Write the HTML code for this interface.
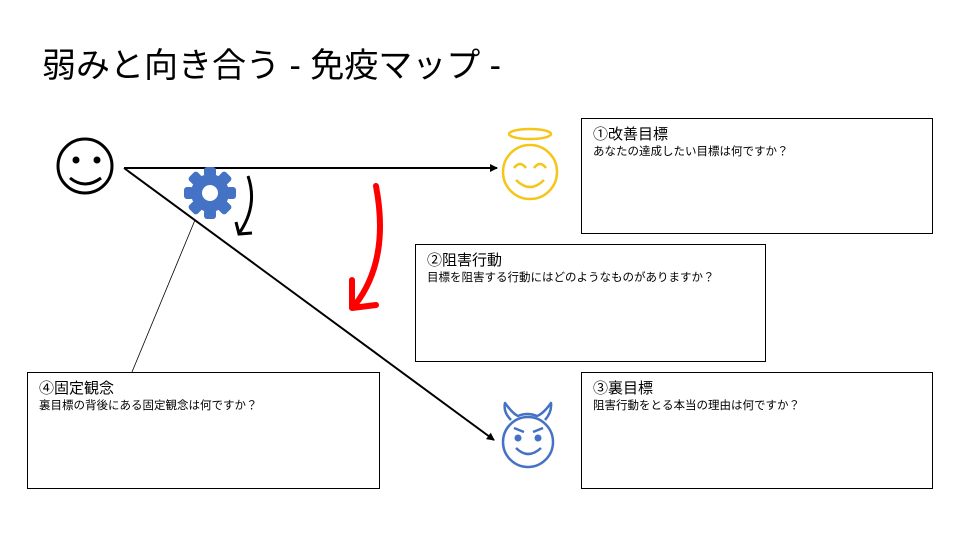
<!DOCTYPE html>
<html><head><meta charset="utf-8"><style>
body{margin:0;width:960px;height:540px;background:#fff;overflow:hidden;font-family:"Liberation Sans","Noto Sans CJK JP",sans-serif;position:relative}
.t{position:absolute;left:42px;top:38px;font-size:34px;color:#000;white-space:nowrap}
.b{position:absolute;border:1.3px solid #000;box-sizing:border-box;padding:7px 0 0 11px}
.b h{display:block;font-size:15px;line-height:18px}
.b p{margin:0;font-size:11.5px;line-height:16px}
svg{position:absolute;left:0;top:0}
</style></head><body>
<svg width="960" height="540">
<defs><marker id="a" markerWidth="8" markerHeight="8" refX="7" refY="4" orient="auto" markerUnits="userSpaceOnUse"><path d="M0,0L8,4L0,8z" fill="#000"/></marker></defs>
<circle cx="85" cy="166" r="27" fill="none" stroke="#000" stroke-width="3"/>
<circle cx="76" cy="160" r="3.5"/><circle cx="97" cy="160" r="3.5"/>
<path d="M70,178 Q85,190 101,178" fill="none" stroke="#000" stroke-width="3"/>
<line x1="124" y1="168" x2="497" y2="168" stroke="#000" stroke-width="2" marker-end="url(#a)"/>
<line x1="124" y1="168" x2="494" y2="440" stroke="#000" stroke-width="2" marker-end="url(#a)"/>
<line x1="195" y1="220" x2="132" y2="372" stroke="#000" stroke-width="0.8"/>
<g transform="translate(210,193)" fill="#4472c4">
<circle r="19"/>
<g id="tooth"><rect x="-6" y="-26" width="12" height="10" rx="3"/></g>
<use href="#tooth" transform="rotate(45)"/><use href="#tooth" transform="rotate(90)"/><use href="#tooth" transform="rotate(135)"/><use href="#tooth" transform="rotate(180)"/><use href="#tooth" transform="rotate(225)"/><use href="#tooth" transform="rotate(270)"/><use href="#tooth" transform="rotate(315)"/>
<circle r="8" fill="#fff"/>
</g>
<path d="M248,176 Q258,205 240,232" fill="none" stroke="#000" stroke-width="3"/>
<path d="M236,222 L239,234 L252,233" fill="none" stroke="#000" stroke-width="3"/>
<path d="M376,186 Q390,260 355,305" fill="none" stroke="#f00" stroke-width="6" stroke-linecap="round"/>
<path d="M352,280 L352,308 L376,305" fill="none" stroke="#f00" stroke-width="6" stroke-linecap="round" stroke-linejoin="round"/>
<g fill="none" stroke="#f5c518" stroke-width="2.5">
<ellipse cx="530" cy="134" rx="21" ry="5"/>
<circle cx="530" cy="172" r="27"/>
<path d="M514,168 Q520,160 526,168 M534,168 Q540,160 546,168 M516,180 Q530,194 544,180"/>
</g>
<g fill="none" stroke="#4472c4" stroke-width="2.5" stroke-linejoin="round">
<path d="M511,420 Q503,412 505,403 Q513,414 518,416 Q527,412 537,416 Q543,414 551,403 Q552,412 545,420"/>
<circle cx="528" cy="442" r="25"/>
<path d="M514,428 L524,432 M543,428 L533,432 M516,448 Q528,460 541,448"/>
</g>
<circle cx="518" cy="438" r="3.5" fill="#4472c4"/><circle cx="538" cy="438" r="3.5" fill="#4472c4"/>
</svg>
<div class="t">弱みと向き合う - 免疫マップ -</div>
<div class="b" style="left:581px;top:118px;width:352px;height:116px"><h>①改善目標</h><p>あなたの達成したい目標は何ですか？</p></div>
<div class="b" style="left:415px;top:244px;width:351px;height:118px"><h>②阻害行動</h><p>目標を阻害する行動にはどのようなものがありますか？</p></div>
<div class="b" style="left:27px;top:372px;width:353px;height:117px"><h>④固定観念</h><p>裏目標の背後にある固定観念は何ですか？</p></div>
<div class="b" style="left:581px;top:372px;width:352px;height:117px"><h>③裏目標</h><p>阻害行動をとる本当の理由は何ですか？</p></div>
</body></html>
